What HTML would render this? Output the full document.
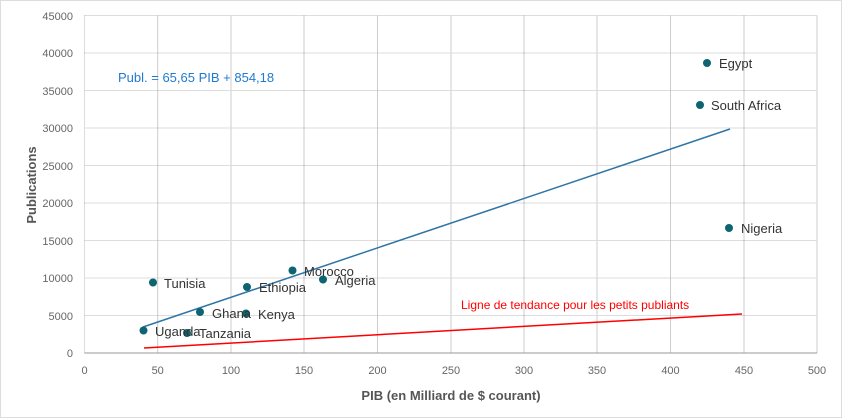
<!DOCTYPE html>
<html><head><meta charset="utf-8"><style>
body{margin:0;background:#fff}
svg{display:block;font-family:"Liberation Sans",sans-serif}
</style></head><body>
<svg width="842" height="418" viewBox="0 0 842 418">
<rect x="0.5" y="0.5" width="841" height="417" fill="#fff" stroke="#bbb" stroke-dasharray="1,1"/>
<g stroke="#ccc" stroke-width="1">
<line x1="157.7" y1="15.5" x2="157.7" y2="353"/>
<line x1="231" y1="15.5" x2="231" y2="353"/>
<line x1="304" y1="15.5" x2="304" y2="353"/>
<line x1="377.5" y1="15.5" x2="377.5" y2="353"/>
<line x1="451" y1="15.5" x2="451" y2="353"/>
<line x1="524" y1="15.5" x2="524" y2="353"/>
<line x1="597" y1="15.5" x2="597" y2="353"/>
<line x1="670.5" y1="15.5" x2="670.5" y2="353"/>
<line x1="744" y1="15.5" x2="744" y2="353"/>
<line x1="817" y1="15.5" x2="817" y2="353"/>
</g>
<g stroke="#bbb" stroke-width="1" stroke-dasharray="1,1">
<line x1="84.5" y1="15.5" x2="817" y2="15.5"/>
<line x1="84.5" y1="53" x2="817" y2="53"/>
<line x1="84.5" y1="90.5" x2="817" y2="90.5"/>
<line x1="84.5" y1="128" x2="817" y2="128"/>
<line x1="84.5" y1="165.5" x2="817" y2="165.5"/>
<line x1="84.5" y1="203" x2="817" y2="203"/>
<line x1="84.5" y1="240.5" x2="817" y2="240.5"/>
<line x1="84.5" y1="278" x2="817" y2="278"/>
<line x1="84.5" y1="315.5" x2="817" y2="315.5"/>
<line x1="84.5" y1="15.5" x2="84.5" y2="353"/>
</g>
<line x1="84.5" y1="353" x2="817" y2="353" stroke="#999"/>
<g font-size="11" fill="#666" text-anchor="end">
<text x="73" y="20">45000</text><text x="73" y="57">40000</text><text x="73" y="95">35000</text>
<text x="73" y="132">30000</text><text x="73" y="170">25000</text><text x="73" y="207">20000</text>
<text x="73" y="245">15000</text><text x="73" y="282">10000</text><text x="73" y="320">5000</text>
<text x="73" y="357">0</text>
</g>
<g font-size="11" fill="#666" text-anchor="middle">
<text x="84.5" y="374">0</text><text x="157.7" y="374">50</text><text x="231" y="374">100</text>
<text x="304" y="374">150</text><text x="377.5" y="374">200</text><text x="451" y="374">250</text>
<text x="524" y="374">300</text><text x="597" y="374">350</text><text x="670.5" y="374">400</text>
<text x="744" y="374">450</text><text x="817" y="374">500</text>
</g>
<text x="451" y="400" font-size="13" font-weight="bold" fill="#555" text-anchor="middle">PIB (en Milliard de $ courant)</text>
<text transform="translate(36,185) rotate(-90)" font-size="13" font-weight="bold" fill="#555" text-anchor="middle">Publications</text>
<line x1="143" y1="327" x2="730" y2="129" stroke="#2e75a6" stroke-width="1.5"/>
<line x1="144" y1="348" x2="742" y2="314" stroke="#ff0000" stroke-width="1.5"/>
<text x="118" y="82" font-size="13" fill="#1f7bd0">Publ. = 65,65 PIB + 854,18</text>
<text x="461" y="309" font-size="12" fill="#ff0000">Ligne de tendance pour les petits publiants</text>
<g fill="#0e6470">
<circle cx="707" cy="63" r="4"/><circle cx="700" cy="105" r="4"/><circle cx="729" cy="228" r="4"/>
<circle cx="292.5" cy="270.5" r="4"/><circle cx="323" cy="279.5" r="4"/><circle cx="153" cy="282.5" r="4"/>
<circle cx="247" cy="287" r="4"/><circle cx="200" cy="312" r="4"/><circle cx="246" cy="313.5" r="4"/>
<circle cx="143.5" cy="330.5" r="4"/><circle cx="187" cy="333" r="4"/>
</g>
<g font-size="13" fill="#333">
<text x="719" y="68">Egypt</text><text x="711" y="110">South Africa</text><text x="741" y="233">Nigeria</text>
<text x="304" y="276">Morocco</text><text x="335" y="285">Algeria</text><text x="164" y="288">Tunisia</text>
<text x="259" y="292">Ethiopia</text><text x="212" y="318">Ghana</text><text x="258" y="319">Kenya</text>
<text x="155" y="336">Uganda</text><text x="199" y="338">Tanzania</text>
</g>
</svg>
</body></html>
